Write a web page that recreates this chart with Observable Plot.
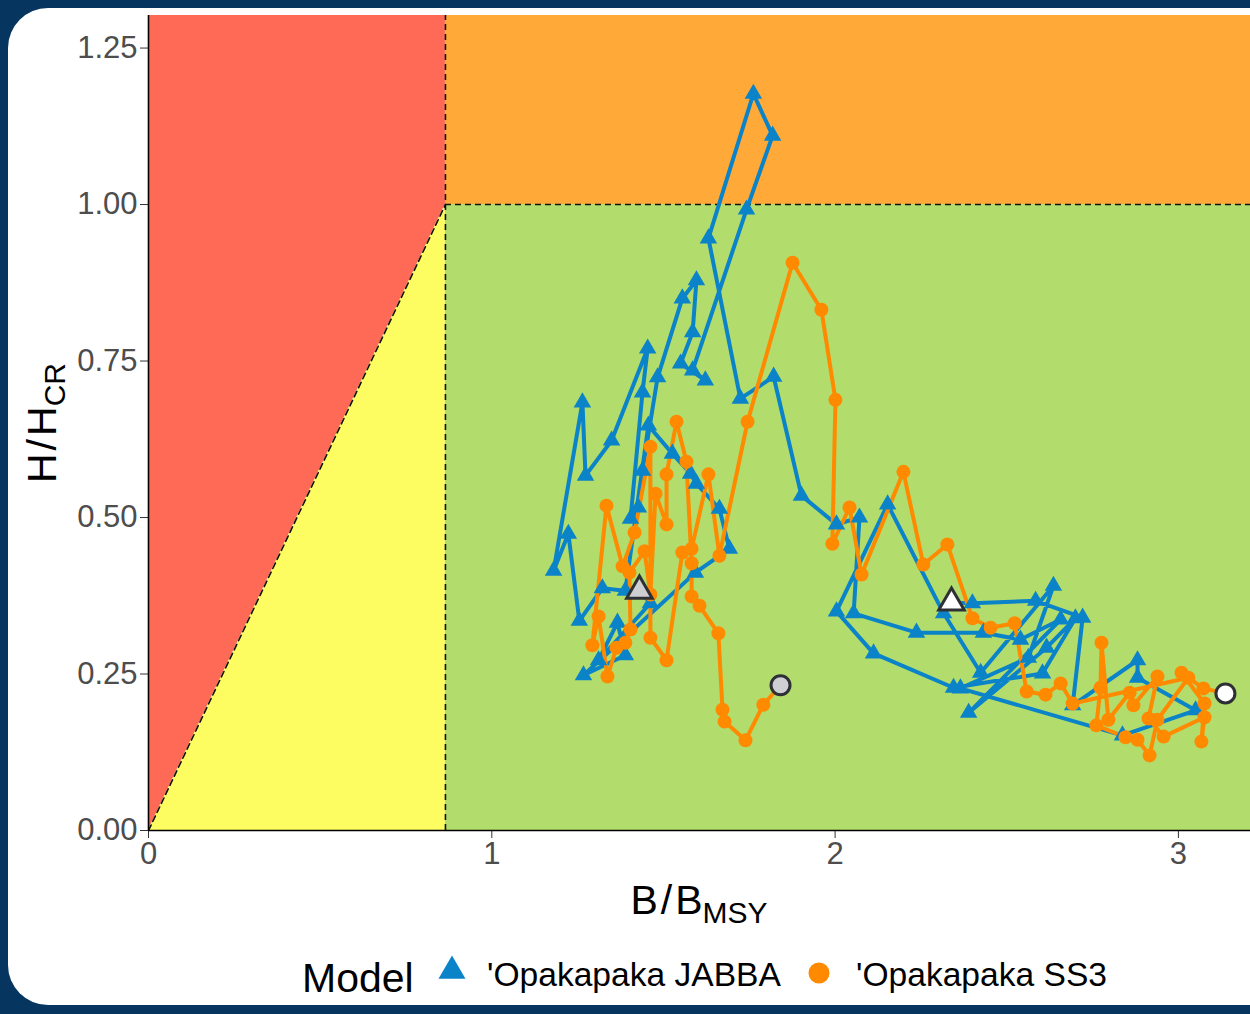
<!DOCTYPE html>
<html>
<head>
<meta charset="utf-8">
<script src="https://cdn.jsdelivr.net/npm/d3@7"></script>
<script src="https://cdn.jsdelivr.net/npm/@observablehq/plot@0.6"></script>
<style>
  html, body { margin: 0; padding: 0; }
  body {
    width: 1250px; height: 1014px; overflow: hidden; position: relative;
    background: #063660;
    font-family: "Liberation Sans", Arial, Helvetica, sans-serif;
  }
  #card {
    position: absolute; left: 8px; top: 8px; width: 1300px; height: 997px;
    background: #ffffff; border-radius: 40px;
  }
  #chart { position: absolute; left: 0; top: 0; }
  #legend { position: absolute; left: 0; top: 940px; }
</style>
</head>
<body>
<div id="card"></div>
<div id="chart"></div>
<div id="legend"></div>
<script>
// Kobe-style trajectories of relative biomass (B/Bmsy) and harvest (H/Hcr)
const models = ["'Opakapaka JABBA", "'Opakapaka SS3"];

const jabbaB = [2.339, 2.400, 2.584, 2.721, 2.692, 2.881, 2.881, 3.050, 2.837, 2.365,
                2.563, 2.636, 2.424, 2.316, 2.153, 2.004, 2.112, 2.345, 2.604, 2.700,
                2.616, 2.389, 2.657, 2.540, 2.432, 2.237, 2.054, 2.071, 2.004, 1.902,
                1.821, 1.724, 1.631, 1.762, 1.818, 1.742, 1.585, 1.622, 1.550, 1.585,
                1.596, 1.555, 1.483, 1.439, 1.427, 1.404, 1.439, 1.454, 1.349, 1.273,
                1.264, 1.180, 1.223, 1.255, 1.322, 1.389, 1.456, 1.526, 1.579, 1.596,
                1.663, 1.692, 1.593, 1.267, 1.389, 1.366, 1.311, 1.462, 1.430];
const jabbaH = [0.364, 0.363, 0.367, 0.340, 0.200, 0.272, 0.244, 0.192, 0.152, 0.227,
                0.276, 0.391, 0.252, 0.347, 0.521, 0.350, 0.283, 0.228, 0.251, 0.339,
                0.292, 0.188, 0.337, 0.305, 0.316, 0.316, 0.347, 0.500, 0.489, 0.535,
                0.725, 0.690, 0.946, 1.177, 1.110, 0.992, 0.735, 0.719, 0.746, 0.796,
                0.879, 0.850, 0.724, 0.575, 0.516, 0.498, 0.700, 0.770, 0.623, 0.567,
                0.684, 0.415, 0.474, 0.335, 0.387, 0.383, 0.647, 0.602, 0.570, 0.554,
                0.514, 0.450, 0.412, 0.248, 0.280, 0.332, 0.272, 0.363, 0.383];

const ss3B = [3.137, 3.073, 3.009, 3.076, 3.067, 3.076, 2.957, 2.913, 2.939, 2.869,
              2.858, 2.796, 2.776, 2.773, 2.761, 2.846, 2.881, 2.916, 2.939, 3.029,
              2.692, 2.657, 2.613, 2.558, 2.523, 2.453, 2.400, 2.327, 2.257, 2.199,
              2.077, 2.042, 1.992, 2.001, 1.960, 1.876, 1.745, 1.663, 1.631, 1.582,
              1.555, 1.509, 1.462, 1.462, 1.416, 1.381, 1.334, 1.293, 1.311, 1.337,
              1.363, 1.389, 1.404, 1.401, 1.445, 1.462, 1.477, 1.509, 1.509, 1.538,
              1.567, 1.582, 1.582, 1.605, 1.660, 1.672, 1.678, 1.739, 1.791, 1.841];
const ss3H = [0.219, 0.227, 0.252, 0.203, 0.142, 0.181, 0.150, 0.179, 0.246, 0.200,
              0.220, 0.177, 0.300, 0.228, 0.168, 0.149, 0.145, 0.120, 0.177, 0.244,
              0.203, 0.235, 0.217, 0.222, 0.331, 0.324, 0.339, 0.457, 0.425, 0.573,
              0.409, 0.516, 0.458, 0.688, 0.832, 0.907, 0.653, 0.439, 0.569, 0.450,
              0.444, 0.272, 0.308, 0.613, 0.476, 0.422, 0.519, 0.296, 0.342, 0.246,
              0.292, 0.300, 0.321, 0.412, 0.446, 0.377, 0.538, 0.489, 0.569, 0.653,
              0.589, 0.427, 0.374, 0.359, 0.315, 0.193, 0.174, 0.144, 0.201, 0.232];

// Reference points and plotting extent
const bLimit = 0.865;   // B/Bmsy limit
const hLimit = 1.0;     // H/Hcr limit
const xMax = 3.21;
const yMax = 1.302;
const xTicks = [0, 1, 2, 3];
const yTicks = [0, 0.25, 0.5, 0.75, 1.0, 1.25];

const colors = { jabba: "#0A83C9", ss3: "#FF8A00" };
const zoneColors = { red: "#FF6A56", orange: "#FFAA38", yellow: "#FDFD62", green: "#B2DC6C" };

const jabba = jabbaB.map((b, i) => ({ b, h: jabbaH[i], model: models[0] }));
const ss3 = ss3B.map((b, i) => ({ b, h: ss3H[i], model: models[1] }));

const dash = "6,4";

const chart = Plot.plot({
  width: 1250,
  height: 930,
  marginLeft: 148,
  marginRight: 0,
  marginTop: 15,
  marginBottom: 100,
  style: { fontFamily: "'Liberation Sans', Arial, sans-serif", background: "transparent", overflow: "visible" },
  x: { domain: [0, xMax] },
  y: { domain: [0, yMax] },
  marks: [
    // status zones
    Plot.areaY([{ x: 0, y1: 0, y2: yMax }, { x: bLimit, y1: hLimit, y2: yMax }],
      { x: "x", y1: "y1", y2: "y2", fill: zoneColors.red }),
    Plot.areaY([{ x: 0, y1: 0, y2: 0 }, { x: bLimit, y1: 0, y2: hLimit }],
      { x: "x", y1: "y1", y2: "y2", fill: zoneColors.yellow }),
    Plot.rect([{ x1: bLimit, x2: xMax, y1: hLimit, y2: yMax }],
      { x1: "x1", x2: "x2", y1: "y1", y2: "y2", fill: zoneColors.orange }),
    Plot.rect([{ x1: bLimit, x2: xMax, y1: 0, y2: hLimit }],
      { x1: "x1", x2: "x2", y1: "y1", y2: "y2", fill: zoneColors.green }),
    // limit reference lines
    Plot.line([[0, 0], [bLimit, hLimit]], { stroke: "#111", strokeWidth: 1.6, strokeDasharray: dash }),
    Plot.ruleX([bLimit], { y1: 0, y2: yMax, stroke: "#111", strokeWidth: 1.6, strokeDasharray: dash }),
    Plot.ruleY([hLimit], { x1: bLimit, x2: xMax, stroke: "#111", strokeWidth: 1.6, strokeDasharray: dash }),
    // axes
    Plot.axisX({ ticks: xTicks, tickFormat: d3.format("d"), tickSize: 8, tickPadding: 3, fontSize: 31, fill: "#4D4D4D", stroke: "#333", label: null }),
    Plot.axisY({ ticks: yTicks, tickFormat: d3.format(".2f"), tickSize: 8, tickPadding: 3, fontSize: 31, fill: "#4D4D4D", stroke: "#333", label: null }),
    Plot.ruleX([0], { stroke: "#000", strokeWidth: 1.6 }),
    Plot.ruleY([0], { stroke: "#000", strokeWidth: 1.6 }),
    // trajectories
    Plot.line(jabba, { x: "b", y: "h", stroke: colors.jabba, strokeWidth: 4, strokeLinejoin: "round" }),
    Plot.line(ss3, { x: "b", y: "h", stroke: colors.ss3, strokeWidth: 4, strokeLinejoin: "round" }),
    Plot.dot(jabba.slice(1, -1), { x: "b", y: "h", symbol: "triangle", r: 6.5, fill: colors.jabba }),
    Plot.dot(ss3.slice(1, -1), { x: "b", y: "h", symbol: "circle", r: 7, fill: colors.ss3 }),
    // first and last years
    Plot.dot([jabba[0]], { x: "b", y: "h", symbol: "triangle", r: 9.5, fill: "#ffffff", stroke: "#2E3035", strokeWidth: 3 }),
    Plot.dot([jabba[jabba.length - 1]], { x: "b", y: "h", symbol: "triangle", r: 9.5, fill: "#CDCFD3", stroke: "#2E3035", strokeWidth: 3 }),
    Plot.dot([ss3[0]], { x: "b", y: "h", symbol: "circle", r: 9.5, fill: "#ffffff", stroke: "#2E3035", strokeWidth: 3 }),
    Plot.dot([ss3[ss3.length - 1]], { x: "b", y: "h", symbol: "circle", r: 9.5, fill: "#CDCFD3", stroke: "#2E3035", strokeWidth: 3 })
  ]
});
document.getElementById("chart").appendChild(chart);

// Axis titles with subscripts
const svg = d3.select(chart);
const xt = svg.append("text")
  .attr("x", 699).attr("y", 914)
  .attr("text-anchor", "middle")
  .attr("font-size", 41).attr("fill", "#000");
xt.append("tspan").text("B");
xt.append("tspan").attr("dx", 3).attr("font-weight", 300).text("/");
xt.append("tspan").attr("dx", 3).text("B");
xt.append("tspan").attr("font-size", 30).attr("dy", 9).text("MSY");

const yt = svg.append("text")
  .attr("transform", "translate(56,423) rotate(-90)")
  .attr("text-anchor", "middle")
  .attr("font-size", 41).attr("fill", "#000");
yt.append("tspan").text("H");
yt.append("tspan").attr("dx", 3).attr("font-weight", 300).text("/");
yt.append("tspan").attr("dx", 3).text("H");
yt.append("tspan").attr("font-size", 30).attr("dy", 9).text("CR");

// Legend
const lg = d3.select("#legend").append("svg").attr("width", 1250).attr("height", 74)
  .style("font-family", "'Liberation Sans', Arial, sans-serif");
lg.append("text").attr("x", 302).attr("y", 52).attr("font-size", 41).attr("fill", "#000").text("Model");
lg.append("path")
  .attr("d", d3.symbol(d3.symbolTriangle, 13.5 * 13.5 * Math.PI * 0.55)())
  .attr("transform", "translate(452,31)")
  .attr("fill", colors.jabba);
lg.append("text").attr("x", 487).attr("y", 46).attr("font-size", 33.6).attr("fill", "#000").text(models[0]);
lg.append("circle").attr("cx", 819).attr("cy", 33).attr("r", 10.5).attr("fill", colors.ss3);
lg.append("text").attr("x", 856).attr("y", 46).attr("font-size", 33.6).attr("fill", "#000").text(models[1]);
</script>
</body>
</html>
